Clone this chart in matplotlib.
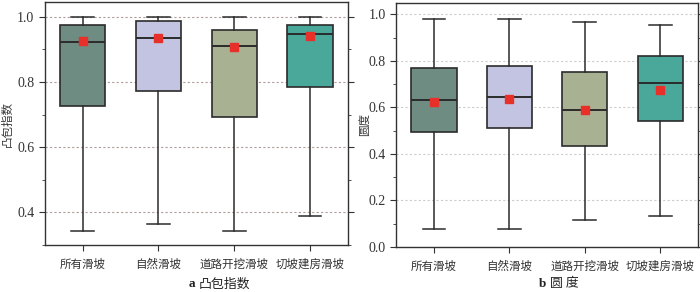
import matplotlib
matplotlib.use("Agg")
import matplotlib.pyplot as plt
from matplotlib.ticker import MultipleLocator

# categories and box statistics
categories = ["所有滑坡", "自然滑坡", "道路开挖滑坡", "切坡建房滑坡"]
box_colors = ["#6e8c82", "#c2c4e2", "#a8b192", "#4aa89a"]

# a: convex hull index
hull_low = [0.342, 0.365, 0.342, 0.388]
hull_q1 = [0.727, 0.773, 0.692, 0.786]
hull_med = [0.923, 0.936, 0.910, 0.947]
hull_q3 = [0.975, 0.987, 0.959, 0.975]
hull_high = [1.0, 1.0, 1.0, 1.0]
hull_mean = [0.927, 0.934, 0.906, 0.941]

# b: roundness
round_low = [0.076, 0.076, 0.117, 0.133]
round_q1 = [0.493, 0.511, 0.436, 0.543]
round_med = [0.633, 0.644, 0.590, 0.706]
round_q3 = [0.770, 0.776, 0.751, 0.819]
round_high = [0.980, 0.980, 0.967, 0.954]
round_mean = [0.624, 0.634, 0.587, 0.676]

CJK = ["Noto Sans CJK SC", "DejaVu Sans"]
NUM = ["Liberation Serif", "DejaVu Serif"]


def make_stats(low, q1, med, q3, high, mean):
    return [dict(whislo=a, q1=b, med=c, q3=d, whishi=e, mean=f, fliers=[])
            for a, b, c, d, e, f in zip(low, q1, med, q3, high, mean)]


def draw_panel(fig, ax, stats, ylim, grid_color, ylabel, ylabel_x, caption_bold, caption):
    ec = "#2b2b2b"
    bp = ax.bxp(stats, positions=range(1, 5), widths=0.6, patch_artist=True,
                showmeans=True, showfliers=False,
                boxprops=dict(edgecolor=ec, linewidth=1.2),
                medianprops=dict(color=ec, linewidth=1.4),
                whiskerprops=dict(color=ec, linewidth=1.1),
                capprops=dict(color=ec, linewidth=1.1),
                capwidths=0.3,
                meanprops=dict(marker="s", markerfacecolor="#e8302a",
                               markeredgecolor="#e8302a", markersize=6))
    for patch, c in zip(bp["boxes"], box_colors):
        patch.set_facecolor(c)
    ax.set_xlim(0.5, 4.5)
    ax.set_ylim(*ylim)
    ax.yaxis.set_major_locator(MultipleLocator(0.2))
    ax.yaxis.set_minor_locator(MultipleLocator(0.1))
    ax.yaxis.grid(True, which="major", linestyle=(0, (2, 2)), color=grid_color, linewidth=0.8)
    ax.set_axisbelow(True)
    ax.tick_params(axis="y", which="both", left=True, right=True, direction="out",
                   labelsize=10, colors="#333333")
    ax.tick_params(axis="y", which="major", length=4)
    ax.tick_params(axis="y", which="minor", length=2.5)
    ax.tick_params(axis="x", length=4, colors="#333333", pad=5)
    ax.set_xticks(range(1, 5))
    ax.set_xticklabels(categories, family=CJK, fontsize=8.3, color="#333333")
    for lab in ax.get_yticklabels():
        lab.set_family(NUM)
    for sp in ax.spines.values():
        sp.set_color("#333333")
        sp.set_linewidth(1.0)
    ax.set_ylabel(ylabel, family=CJK, fontsize=8.3, color="#333333", va="center")
    ax.yaxis.set_label_coords(ylabel_x, 0.5)
    # caption under the panel
    bb = ax.get_position()
    cx = (bb.x0 + bb.x1) / 2
    fig.text(cx - 0.002, 0.028, caption_bold, ha="right", va="center",
             fontsize=9.5, family=NUM, weight="bold", color="#222222")
    fig.text(cx + 0.004, 0.028, caption, ha="left", va="center",
             fontsize=9.3, family=CJK, color="#222222")


def main():
    fig = plt.figure(figsize=(7.0, 2.92), dpi=100)
    ax_a = fig.add_axes([0.064, 0.161, 0.433, 0.832])
    ax_b = fig.add_axes([0.566, 0.154, 0.431, 0.837])

    draw_panel(fig, ax_a, make_stats(hull_low, hull_q1, hull_med, hull_q3, hull_high, hull_mean),
               (0.30, 1.045), "#b59a9a", "凸包指数", -0.122, "a", "凸包指数")
    draw_panel(fig, ax_b, make_stats(round_low, round_q1, round_med, round_q3, round_high, round_mean),
               (0.0, 1.05), "#cccccc", "圆度", -0.106, "b", "圆 度")

    fig.savefig("out.png", dpi=100)
    plt.close(fig)


if __name__ == "__main__":
    main()
